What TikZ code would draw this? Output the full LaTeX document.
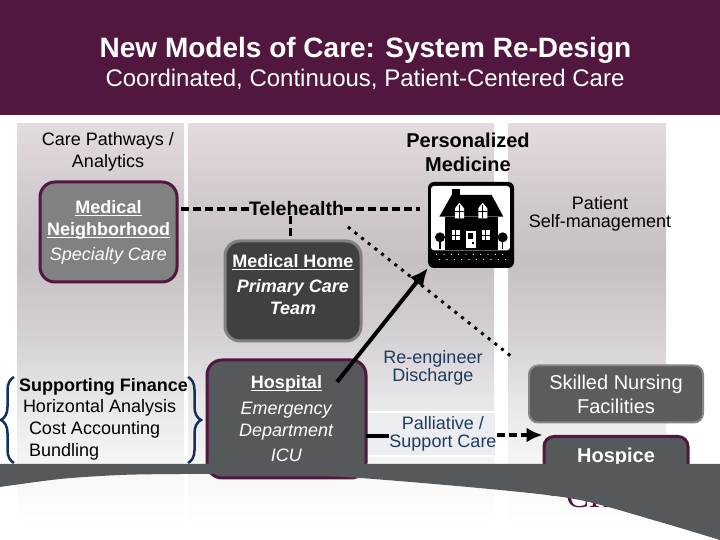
\documentclass[tikz,border=0pt]{standalone}
\usepackage{fontspec}
\setmainfont{Liberation Sans}
\newfontfamily\serifmark{Liberation Serif}
\usetikzlibrary{arrows.meta,decorations.pathreplacing}
\definecolor{plum}{HTML}{52173F}
\definecolor{slategray}{HTML}{55595C}
\definecolor{navytext}{HTML}{1F3A5F}
\definecolor{navybrace}{HTML}{12305F}
\definecolor{fadea}{HTML}{E3DBE0}
\definecolor{fadeb}{HTML}{D0C9CE}
\definecolor{fadec}{HTML}{C6C0C5}
\definecolor{faded}{HTML}{D6D1D4}
\definecolor{fadee}{HTML}{E8E6E8}
\definecolor{fadef}{HTML}{F5F5F5}
\pgfdeclareverticalshading{panelfade}{100bp}{color(0bp)=(white); color(25bp)=(white); color(33.1bp)=(fadef); color(40.6bp)=(fadee); color(48bp)=(faded); color(58bp)=(fadec); color(65.5bp)=(fadeb); color(75bp)=(fadea); color(100bp)=(fadea)}
\tikzset{
  panel/.style={shading=panelfade, draw=none},
  careline/.style={line width=3.5pt, dash pattern=on 8pt off 4pt},
  txt/.style={font=\fontsize{18}{22}\selectfont, align=center, inner sep=0pt},
  boxtxt/.style={txt, text=white, rounded corners=15pt, line width=3pt, draw=plum},
  brace/.style={draw=navybrace, line width=2.5pt, decorate, decoration={brace, amplitude=13pt, aspect=0.5}}
}
\newcommand{\boxhead}[1]{\rule{0pt}{13pt}\textbf{\underline{\smash{#1}}}}
\begin{document}
\begin{tikzpicture}[x=1pt,y=1pt]
\useasboundingbox (0,0) rectangle (720,540);
\fill[white] (0,0) rectangle (720,540);

% BANNER
\fill[plum] (0,425) rectangle +(720,115);
\node[txt, text=white, font=\fontsize{28}{30}\selectfont\bfseries] (title) at (365.5,490) {New Models of Care: System Re-Design};
\node[txt, text=white, font=\fontsize{24}{26}\selectfont] (subtitle) at (365,461) {Coordinated, Continuous, Patient-Centered Care};

% PANELS
\shade[panel] (17,15) rectangle +(167,401);
\shade[panel] (188,15) rectangle +(306,401);
\shade[panel] (508,15) rectangle +(158,401);

% PALLIATIVE BAND
\draw[white, line width=2pt, fill=white!91!navytext] (366,84) rectangle +(130,44);

% FIRST COLUMN
\node[txt] (pathways) at (108,388.5) {Care Pathways /\\Analytics};
\node[boxtxt, fill=gray!99!white, text depth=2pt, minimum width=137pt, minimum height=100pt] (neighborhood) at (108.5,308) {\boxhead{Medical}\\\boxhead{Neighborhood}\\[3pt]\textit{Specialty Care}};
\node[txt, align=left, font=\fontsize{18}{21.7}\selectfont] (finance) at (103.5,121) {\textbf{Supporting Finance}\\\hspace*{4pt}Horizontal Analysis\\\hspace*{10pt}Cost Accounting\\\hspace*{10pt}Bundling};
\draw[brace] (14,77) -- (14,163);
\draw[brace] (188,163) -- (188,77);

% SECOND COLUMN
\node[txt, font=\fontsize{20}{24}\selectfont\bfseries] (personalized) at (468,388) {Personalized\\Medicine};
\node[txt, font=\fontsize{19.5}{24}\selectfont\bfseries] (telehealth) at (296.5,331) {Telehealth};
\node[boxtxt, draw=gray, fill=black!75, text depth=12pt, minimum width=136pt, minimum height=100pt] (home) at (293,249) {\boxhead{Medical Home}\\[3pt]\textit{\textbf{Primary Care}}\\\textit{\textbf{Team}}};
\node[boxtxt, fill=slategray, minimum width=159pt, minimum height=118pt] (hospital) at (286.5,121) {\boxhead{Hospital}\\[4pt]\textit{Emergency}\\\textit{Department}\\[3pt]\textit{ICU}};
\node[txt, text=navytext, font=\fontsize{18}{18}\selectfont] (discharge) at (433,172) {Re-engineer\\Discharge};
\node[txt, text=navytext, font=\fontsize{18}{18}\selectfont] (palliative) at (443,106) {Palliative /\\Support Care};

% HOUSE
\node[fill=black, rounded corners=6pt, minimum size=86pt, inner sep=0pt] (house) at (471,315) {};
\begin{scope}[shift={(420,365)},x=0.3333pt,y=-0.3333pt]
\fill[white, rounded corners=3pt] (33,33) rectangle (270,226);
\fill[black] (95,43) rectangle (120,60);
\fill[black] (58,125) -- (95,60) -- (215,60) -- (250,125) -- cycle;
\fill[black] (75,125) rectangle (235,226);
\foreach \wx in {105,175} {
  \fill[white] (\wx,130) -- (\wx,100) -- (\wx+13,83) -- (\wx+27,100) -- (\wx+27,130) -- cycle;
  \draw[black, line width=0.8pt] (\wx+13,90) -- (\wx+13,130) (\wx,108) -- (\wx+27,108);
}
\foreach \wx in {95,185} {
  \fill[white] (\wx,165) rectangle +(25,30);
  \draw[black, line width=0.8pt] (\wx+12.5,165) -- +(0,30) (\wx,180) -- +(25,0);
}
\fill[white] (137,168) rectangle (167,218);
\fill[black] (144,175) rectangle (160,192);
\fill[black] (155,201) rectangle (161,207);
\foreach \tx in {60,248} {
  \fill[black] (\tx,187) circle (15);
  \fill[black] (\tx-2.5,190) rectangle (\tx+2.5,222);
}
\foreach \dx in {50,72,...,260} {
  \fill[white] (\dx,238) circle (2);
  \fill[white] (\dx+9,254) circle (2);
}
\end{scope}

% THIRD COLUMN
\node[txt, font=\fontsize{18}{18}\selectfont] (selfmgmt) at (600,326) {Patient\\Self-management};
\node[boxtxt, draw=gray!95!white, fill=black!64, line width=2pt, rounded corners=9pt, font=\fontsize{20}{24}\selectfont, minimum width=174pt, minimum height=57pt] (nursing) at (616,146) {Skilled Nursing\\Facilities};
\node[boxtxt, fill=slategray, anchor=north, font=\fontsize{20}{24}\selectfont, minimum width=144pt, inner sep=0pt, text depth=32pt, text height=26pt, rounded corners=10pt] (hospice) at (616,105) {\textbf{\underline{Hospice}}};

% CONNECTORS
\coordinate (hospitalout) at (337,158);
\coordinate (dotstart) at (348,313);
\coordinate (dotend) at (512,183);
\coordinate (hospitalside) at (366,104);
\draw[careline] (telehealth.west) -- (neighborhood.east |- telehealth.west);
\draw[careline, shorten >=8pt] (telehealth.east) -- (house.west |- telehealth.east);
\draw[careline] ([xshift=-6pt]telehealth.south) -- ([xshift=-6pt]telehealth.south |- home.north);
\draw[line width=3pt, dash pattern=on 3pt off 5.5pt] (dotstart) -- (dotend);
\draw[line width=4pt, -{Latex[length=18pt,width=17pt]}] (hospitalout) -- (house.south west);
\draw[line width=3.5pt] (hospitalside) -- (palliative.west |- hospitalside);
\draw[careline, -{Latex[length=16pt,width=15pt]}] (palliative.east |- hospice.north west) -- (hospice.north west);

% SWOOSH
\node[text=plum, font=\fontsize{34}{34}\selectfont\serifmark] (mark) at (590,44) {CH};
\fill[slategray] (0,76) -- (720,76) -- (720,0) -- plot[smooth] coordinates {(720,0) (660,18) (580,40) (500,50) (360,62) (270,66) (180,66) (120,65) (60,61) (0,53)} -- cycle;
\end{tikzpicture}
\end{document}
